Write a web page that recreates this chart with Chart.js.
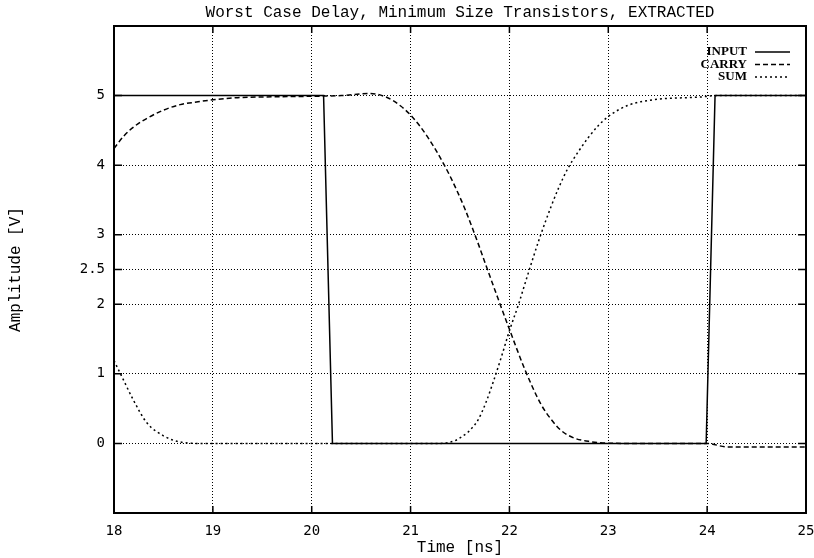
<!DOCTYPE html>
<html>
<head>
<meta charset="utf-8">
<script src="https://cdn.jsdelivr.net/npm/chart.js@4.4.0/dist/chart.umd.min.js"></script>
<style>
  html, body { margin: 0; padding: 0; background: #fff; }
  #wrap { width: 814px; height: 558px; }
</style>
</head>
<body>
<div id="wrap"><canvas id="myChart" width="814" height="558"></canvas></div>
<script>
// data
const inputT = [18, 20.12, 20.21, 23.99, 24.08, 25];
const inputV = [5, 5, 0, 0, 5, 5];

const carryT = [18, 18.1, 18.2, 18.33, 18.5, 18.67, 18.85, 19, 19.25, 19.5, 20, 20.3, 20.59, 20.75, 20.9, 21.02, 21.1, 21.17, 21.25, 21.33, 21.4, 21.47, 21.55, 21.64, 21.7, 21.76, 21.88, 22.0, 22.16, 22.32, 22.42, 22.52, 22.65, 22.8, 22.92, 23.2, 24.0, 24.2, 25];
const carryV = [4.24, 4.42, 4.55, 4.67, 4.79, 4.87, 4.91, 4.94, 4.97, 4.98, 4.99, 5.0, 5.03, 4.98, 4.85, 4.69, 4.55, 4.41, 4.23, 4.03, 3.84, 3.63, 3.37, 3.04, 2.81, 2.57, 2.1, 1.64, 1.05, 0.56, 0.35, 0.19, 0.08, 0.03, 0.01, 0, 0, -0.05, -0.05];

const sumT = [18, 18.1, 18.19, 18.33, 18.5, 18.67, 18.9, 21.3, 21.45, 21.5, 21.58, 21.62, 21.68, 21.76, 21.84, 21.92, 22.0, 22.09, 22.18, 22.3, 22.42, 22.5, 22.59, 22.7, 22.8, 22.9, 23.0, 23.2, 23.46, 23.94, 24.1, 25];
const sumV = [1.19, 0.9, 0.64, 0.3, 0.11, 0.02, 0, 0, 0.04, 0.08, 0.16, 0.22, 0.33, 0.58, 0.9, 1.25, 1.62, 1.99, 2.4, 2.93, 3.4, 3.68, 3.95, 4.2, 4.4, 4.57, 4.7, 4.86, 4.94, 4.98, 5.0, 5.0];

const yTicks = [0, 1, 2, 2.5, 3, 4, 5];
const xTicks = [18, 19, 20, 21, 22, 23, 24, 25];

const titleText = 'Worst Case Delay, Minimum Size Transistors, EXTRACTED';
const MONO = '"Liberation Mono", "DejaVu Sans Mono", monospace';
const TICKFONT = '"DejaVu Sans Mono", monospace';

function pts(t, v) {
  return t.map((x, i) => ({x: x, y: v[i]}));
}

// frame, inward ticks, title and legend like gnuplot
const framePlugin = {
  id: 'frame',
  afterDraw(chart) {
    const c = chart.ctx;
    const a = chart.chartArea;
    const xs = chart.scales.x, ys = chart.scales.y;
    c.save();
    c.strokeStyle = '#000';
    c.setLineDash([]);
    c.lineWidth = 1.5;
    xTicks.forEach(v => {
      const px = xs.getPixelForValue(v);
      c.beginPath();
      c.moveTo(px, a.bottom); c.lineTo(px, a.bottom - 7);
      c.moveTo(px, a.top); c.lineTo(px, a.top + 7);
      c.stroke();
    });
    yTicks.forEach(v => {
      const py = ys.getPixelForValue(v);
      c.beginPath();
      c.moveTo(a.left, py); c.lineTo(a.left + 8, py);
      c.moveTo(a.right, py); c.lineTo(a.right - 8, py);
      c.stroke();
    });
    c.lineWidth = 2;
    c.strokeRect(a.left, a.top, a.right - a.left, a.bottom - a.top);

    // title
    c.fillStyle = '#000';
    c.font = '16px ' + MONO;
    c.textAlign = 'center';
    c.textBaseline = 'middle';
    c.fillText(titleText, 460, 13);

    // legend
    c.font = 'bold 13px "Liberation Serif", serif';
    c.textAlign = 'right';
    chart.data.datasets.forEach((ds, i) => {
      const y = 52 + i * 12.5;
      c.fillText(ds.label, 747, y);
      c.lineWidth = 1.3;
      c.setLineDash(ds.borderDash || []);
      c.beginPath();
      c.moveTo(755, y); c.lineTo(790, y);
      c.stroke();
    });
    c.restore();
  }
};

const ctx = document.getElementById('myChart');
const myChart = new Chart(ctx, {
  type: 'line',
  data: {
    datasets: [{
      label: 'INPUT',
      data: pts(inputT, inputV),
      borderColor: '#000',
      borderWidth: 1.5,
      tension: 0,
      pointRadius: 0
    }, {
      label: 'CARRY',
      data: pts(carryT, carryV),
      borderColor: '#000',
      borderWidth: 1.5,
      borderDash: [5, 3],
      cubicInterpolationMode: 'monotone',
      pointRadius: 0
    }, {
      label: 'SUM',
      data: pts(sumT, sumV),
      borderColor: '#000',
      borderWidth: 1.5,
      borderDash: [2, 3],
      cubicInterpolationMode: 'monotone',
      pointRadius: 0
    }]
  },
  options: {
    responsive: false,
    animation: false,
    layout: { padding: { top: 26, right: 8, left: 0, bottom: 0 } },
    plugins: {
      legend: { display: false },
      tooltip: { enabled: false },
      title: { display: false }
    },
    scales: {
      x: {
        type: 'linear',
        min: 18,
        max: 25,
        afterBuildTicks: s => { s.ticks = xTicks.map(v => ({value: v})); },
        afterFit: s => { s.height = 45; s.paddingLeft = 0; s.paddingRight = 0; },
        grid: { color: '#000', lineWidth: 1, drawTicks: false },
        border: { display: false, dash: [1, 2] },
        ticks: { color: '#000', padding: 10, maxRotation: 0, font: { family: TICKFONT, size: 14 } },
        title: {
          display: true, text: 'Time [ns]', color: '#000',
          padding: { top: 0, bottom: 1 },
          font: { family: MONO, size: 16 }
        }
      },
      y: {
        type: 'linear',
        min: -1,
        max: 6,
        afterBuildTicks: s => { s.ticks = yTicks.map(v => ({value: v})); },
        afterFit: s => { s.width = 114; s.paddingTop = 0; s.paddingBottom = 0; },
        grid: { color: '#000', lineWidth: 1, drawTicks: false },
        border: { display: false, dash: [1, 2] },
        ticks: { color: '#000', padding: 9, font: { family: TICKFONT, size: 14 } },
        title: {
          display: true, text: 'Amplitude [V]', color: '#000',
          padding: { top: 6, bottom: 0 },
          font: { family: MONO, size: 16 }
        }
      }
    }
  },
  plugins: [framePlugin]
});
</script>
</body>
</html>
